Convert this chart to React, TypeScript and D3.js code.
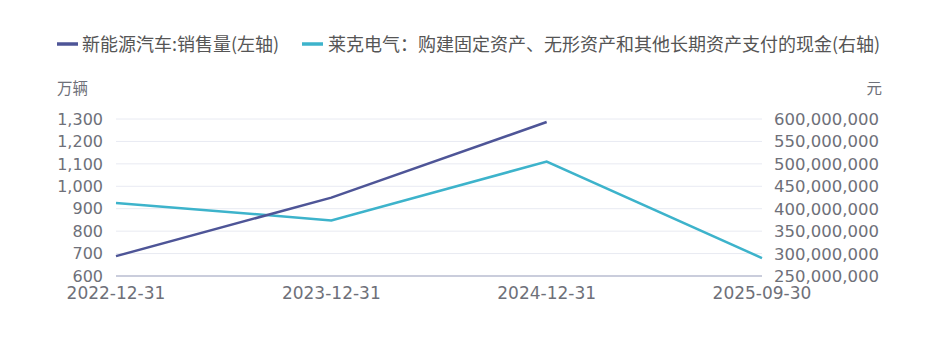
import React from "react";
import * as d3 from "d3";

const categories = ["2022-12-31", "2023-12-31", "2024-12-31", "2025-09-30"];
const nevSales: (number | null)[] = [688.7, 949.5, 1286.6, null];
const capex: number[] = [413000000, 374000000, 505000000, 290000000];
const leftTicks = [600, 700, 800, 900, 1000, 1100, 1200, 1300];
const rightTicks = [250000000, 300000000, 350000000, 400000000, 450000000, 500000000, 550000000, 600000000];
const legendNames = ["新能源汽车:销售量(左轴)", "莱克电气：购建固定资产、无形资产和其他长期资产支付的现金(右轴)"];
const colors = ["#4e5597", "#3db3cb"];

const W = 937, H = 339;
const CJK = "'Noto Sans CJK SC', 'Microsoft YaHei', sans-serif";
const NUM = "'DejaVu Sans', 'Noto Sans CJK SC', sans-serif";

export default function App() {
  const x = d3.scalePoint<string>().domain(categories).range([116, 762]);
  const yL = d3.scaleLinear().domain([600, 1300]).range([276, 119]);
  const yR = d3.scaleLinear().domain([250000000, 600000000]).range([276, 119]);
  const fmt = d3.format(",");

  const lineL = d3
    .line<number | null>()
    .defined((d) => d !== null)
    .x((_, i) => x(categories[i])!)
    .y((d) => yL(d as number));
  const lineR = d3
    .line<number>()
    .x((_, i) => x(categories[i])!)
    .y((d) => yR(d));

  return (
    <svg width={W} height={H} style={{ position: "absolute", left: 0, top: 0, fontFamily: CJK }}>
      <rect width={W} height={H} fill="#fff" />
      {/* legend */}
      <g>
        <line x1={57} x2={78} y1={44} y2={44} stroke={colors[0]} strokeWidth={3.5} />
        <text x={82} y={50.5} fontSize={18} fill="#555">{legendNames[0]}</text>
        <line x1={302} x2={323} y1={44} y2={44} stroke={colors[1]} strokeWidth={3.5} />
        <text x={328} y={50.5} fontSize={18} fill="#555">{legendNames[1]}</text>
      </g>
      {/* units */}
      <text x={57} y={94} fontSize={15.5} fill="#6e7079">万辆</text>
      <text x={882} y={94} fontSize={15.5} fill="#6e7079" textAnchor="end">元</text>
      {/* grid */}
      {leftTicks.map((t) => (
        <line key={"g" + t} x1={116} x2={762} y1={yL(t)} y2={yL(t)} stroke={t === 600 ? "#b9bdd0" : "#e8eaf2"} strokeWidth={t === 600 ? 1.5 : 1} />
      ))}
      {/* left ticks */}
      {leftTicks.map((t) => (
        <text key={"l" + t} x={103} y={yL(t)} dy="0.36em" fontSize={16} fontFamily={NUM} fill="#6e7079" textAnchor="end">{fmt(t)}</text>
      ))}
      {/* right ticks */}
      {rightTicks.map((t) => (
        <text key={"r" + t} x={774} y={yR(t)} dy="0.36em" fontSize={16.5} fontFamily={NUM} fill="#6e7079" textAnchor="start">{fmt(t)}</text>
      ))}
      {/* x ticks */}
      {categories.map((c) => (
        <text key={c} x={x(c)!} y={299} fontSize={17} fontFamily={NUM} fill="#6e7079" textAnchor="middle">{c}</text>
      ))}
      <path d={lineR(capex)!} fill="none" stroke={colors[1]} strokeWidth={2.5} />
      <path d={lineL(nevSales)!} fill="none" stroke={colors[0]} strokeWidth={2.5} />
    </svg>
  );
}
